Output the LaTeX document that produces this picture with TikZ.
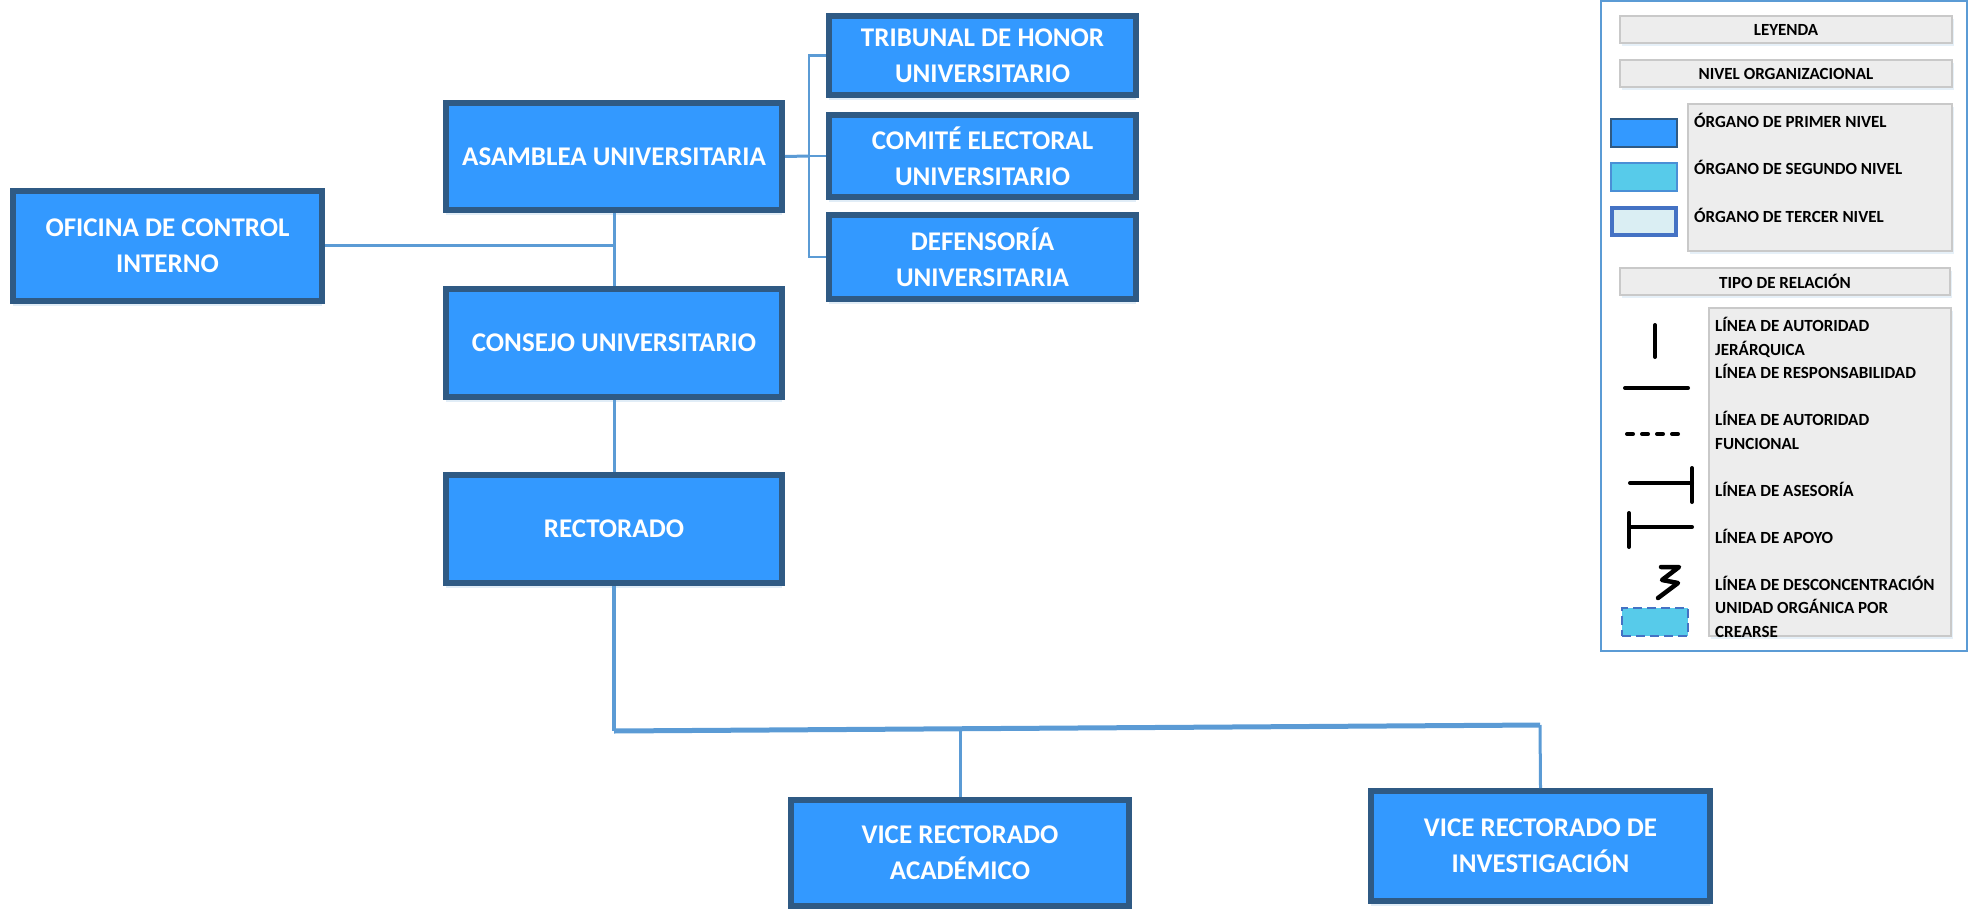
\documentclass[tikz,border=0pt]{standalone}
\usepackage{fontspec}
\setmainfont{Carlito}
\usetikzlibrary{shadows}

\definecolor{boxfill}{HTML}{3399FF}
\definecolor{boxline}{HTML}{2F5A84}
\definecolor{conn}{HTML}{5B9BD5}
\definecolor{leggray}{HTML}{EDEDED}
\definecolor{legline}{HTML}{C9C9C9}
\definecolor{second}{HTML}{57CBEA}
\definecolor{secondline}{HTML}{4A8FD6}
\definecolor{third}{HTML}{DAEEF3}
\definecolor{thirdline}{HTML}{4472C4}

\tikzset{
  organo/.style={draw=boxline, line width=6pt, fill=boxfill, text=white,
    font=\fontsize{27}{36}\selectfont\bfseries, align=center, inner sep=0pt,
    drop shadow={opacity=0.18, shadow xshift=0pt, shadow yshift=-5pt, fill=conn}},
  link/.style={draw=conn, line width=3pt},
  legbox/.style={draw=legline, fill=leggray, line width=2pt, inner sep=0pt,
    font=\fontsize{17}{23.5}\selectfont\bfseries,
    drop shadow={opacity=0.15, shadow xshift=2pt, shadow yshift=-3pt, fill=conn}},
  legtext/.style={font=\fontsize{17}{23.5}\selectfont\bfseries, inner sep=0pt, anchor=base west},
  swatch/.style={minimum width=66, minimum height=28, inner sep=0pt, line width=2pt},
  relsym/.style={line width=4pt, line cap=round, line join=round, black}
}

\begin{document}
\begin{tikzpicture}[x=1pt, y=-1pt]
  \useasboundingbox (0,0) rectangle (1972,909);

  % organos
  \node[organo, minimum width=307, minimum height=79] (trib) at (982.5,55.5) {TRIBUNAL DE HONOR\\UNIVERSITARIO};
  \node[organo, minimum width=307, minimum height=82] (com) at (982.5,156) {COMITÉ ELECTORAL\\UNIVERSITARIO};
  \node[organo, minimum width=307, minimum height=84] (def) at (982.5,257) {DEFENSORÍA\\UNIVERSITARIA};
  \node[organo, minimum width=336, minimum height=107] (asa) at (614,156.5) {ASAMBLEA UNIVERSITARIA};
  \node[organo, minimum width=309, minimum height=110] (ofi) at (167.5,246) {OFICINA DE CONTROL\\INTERNO};
  \node[organo, minimum width=336, minimum height=108] (con) at (614,343) {CONSEJO UNIVERSITARIO};
  \node[organo, minimum width=336, minimum height=108] (rec) at (614,529) {RECTORADO};
  \node[organo, minimum width=338, minimum height=106] (vac) at (960,853) {VICE RECTORADO\\ACADÉMICO};
  \node[organo, minimum width=339, minimum height=110] (vin) at (1540.5,846) {VICE RECTORADO DE\\INVESTIGACIÓN};

  % conectores
  \coordinate (brk) at (809,156);
  \coordinate (busL) at (614,731);
  \coordinate (busA) at (960,729);
  \coordinate (busR) at (1540,725);

  \draw[link] (asa) -- (con);
  \draw[link] (ofi.east) -- (ofi.east -| asa.south);
  \draw[link] (asa.east) -- (brk);
  \draw[link, line width=2.5pt] (trib.west) -| (brk) |- (def.west);
  \draw[link, line width=2.5pt] (brk) -- (com.west);
  \draw[link] (con) -- (rec);
  \draw[link, line width=4pt] (rec.south) -- (busL);
  \draw[link, line width=5pt] (busL) -- (busR);
  \draw[link] (busA) -- (vac.north);
  \draw[link] (busR) -- (vin.north);

  % leyenda
  \node[draw=conn, line width=2pt, fill=white, minimum width=366, minimum height=650, inner sep=0pt] (leg) at (1784,326) {};
  \node[legbox, minimum width=332, minimum height=27] (ley) at (1786,29.5) {LEYENDA};
  \node[legbox, minimum width=332, minimum height=27] (niv) at (1786,73.5) {NIVEL ORGANIZACIONAL};
  \node[legbox, minimum width=264, minimum height=147] (nivtxt) at (1820,177.5) {};
  \node[legbox, minimum width=330, minimum height=27] (tipo) at (1785,281.5) {TIPO DE RELACIÓN};
  \node[legbox, minimum width=242, minimum height=328] (reltxt) at (1830,472) {};

  \node[swatch, draw=boxline, fill=boxfill] (sw1) at (1644,133) {};
  \node[swatch, draw=secondline, fill=second] (sw2) at (1644,177) {};
  \node[swatch, draw=thirdline, fill=third, line width=4pt, minimum width=64, minimum height=27] (sw3) at (1644,221.5) {};

  \node[legtext] (n1) at (1694,127.5) {ÓRGANO DE PRIMER NIVEL};
  \node[legtext] (n2) at (1694,174.5) {ÓRGANO DE SEGUNDO NIVEL};
  \node[legtext] (n3) at (1694,222.5) {ÓRGANO DE TERCER NIVEL};

  \foreach \y/\t in {326/LÍNEA DE AUTORIDAD, 350/JERÁRQUICA, 373/LÍNEA DE RESPONSABILIDAD,
                     420/LÍNEA DE AUTORIDAD, 444/FUNCIONAL, 491/LÍNEA DE ASESORÍA,
                     538/LÍNEA DE APOYO, 585/LÍNEA DE DESCONCENTRACIÓN,
                     608/UNIDAD ORGÁNICA POR, 632/CREARSE}
    \node[legtext] (r\y) at (1715,\y+5.5) {\t};

  % simbolos
  \draw[relsym] (1655,325) -- (1655,357);
  \draw[relsym] (1625,388) -- (1688,388);
  \draw[relsym, dash pattern=on 6pt off 9pt] (1627,434) -- (1684,434);
  \draw[relsym] (1630,483) -- (1692,483);
  \draw[relsym] (1692,468) -- (1692,502);
  \draw[relsym] (1629,513) -- (1629,547);
  \draw[relsym] (1629,527) -- (1692,527);
  \draw[relsym, line width=4.5pt] (1661,567) -- (1679,567) -- (1662,580) -- (1678,583) -- (1658,598);
  \node[swatch, draw=thirdline, dash pattern=on 9pt off 5pt, fill=second] (nueva) at (1655,622) {};
\end{tikzpicture}
\end{document}
